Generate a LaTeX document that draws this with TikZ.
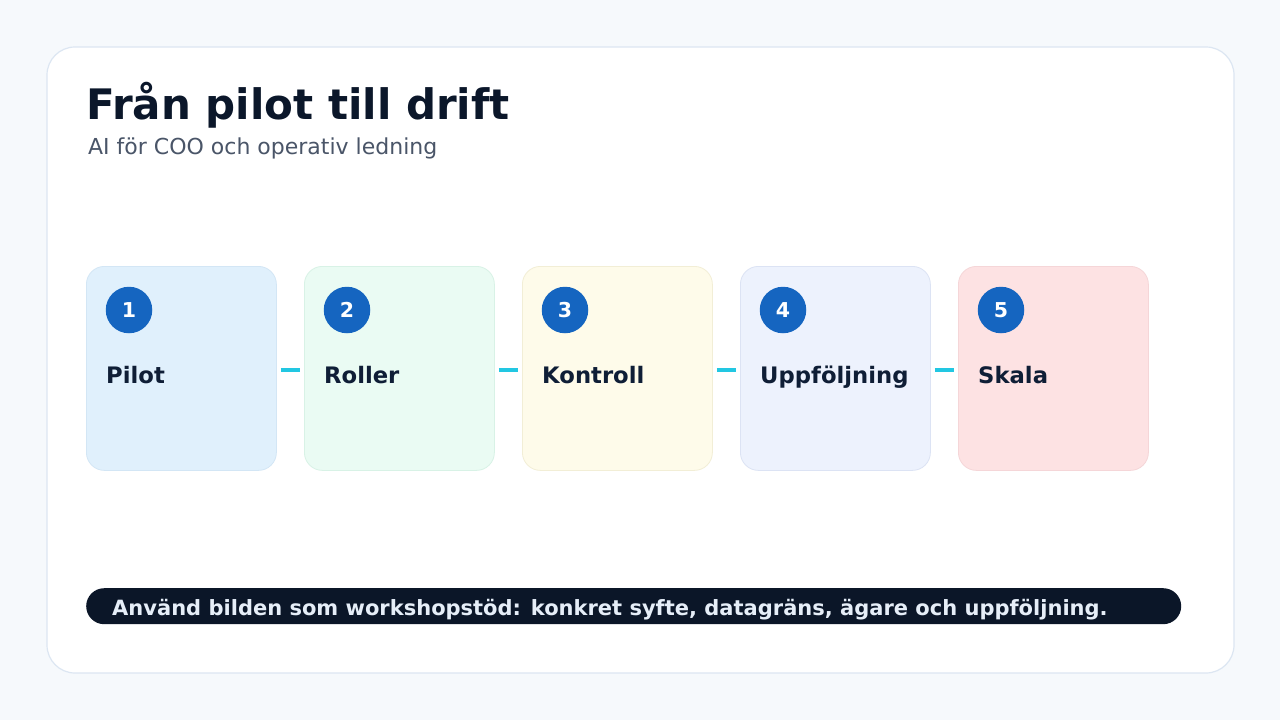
\documentclass[tikz,border=0pt]{standalone}
\usepackage{fontspec}
\setmainfont{DejaVu Sans}
\begin{document}
\begin{tikzpicture}[x=1pt,y=-1pt,
  numdot/.style={circle, fill=numblue, minimum size=46.5pt, inner sep=0pt, text=white, font=\fontsize{20.5}{24}\selectfont\bfseries},
  steplabel/.style={anchor=base west, inner sep=0pt, text=darktext, font=\fontsize{22.7}{26}\selectfont\bfseries},
  link/.style={draw=linkcyan, line width=4pt}]
\definecolor{bgpage}{HTML}{F6F9FC}
\definecolor{cardborder}{HTML}{DCE6F2}
\definecolor{titlecol}{HTML}{0B172A}
\definecolor{subcol}{HTML}{4A5568}
\definecolor{darktext}{HTML}{0F1E36}
\definecolor{numblue}{HTML}{1565C0}
\definecolor{linkcyan}{HTML}{22C7E2}
\definecolor{barcol}{HTML}{0B1628}
\definecolor{bartext}{HTML}{E6EEF8}
\definecolor{fillA}{HTML}{E0F0FC}
\definecolor{fillB}{HTML}{EAFBF3}
\definecolor{fillC}{HTML}{FEFBEA}
\definecolor{fillD}{HTML}{EDF2FD}
\definecolor{fillE}{HTML}{FDE2E3}
\definecolor{lineA}{HTML}{D3E6F5}
\definecolor{lineB}{HTML}{D8F2E6}
\definecolor{lineC}{HTML}{F2EED6}
\definecolor{lineD}{HTML}{DCE3F4}
\definecolor{lineE}{HTML}{F5D6D8}
\useasboundingbox (0,0) rectangle (1280,720);
\fill[bgpage] (0,0) rectangle (1280,720);
\draw[cardborder, fill=white, line width=1.2pt, rounded corners=28pt] (47,47) rectangle (1234,673);
\node[anchor=base west, inner sep=0pt, text=titlecol, font=\fontsize{42}{48}\selectfont\bfseries] (title) at (86,119) {Från pilot till drift};
\node[anchor=base west, inner sep=0pt, text=subcol, font=\fontsize{22}{26}\selectfont] (sub) at (88,154) {AI för COO och operativ ledning};
\foreach \i/\lab/\f/\l in {1/Pilot/fillA/lineA,2/Roller/fillB/lineB,3/Kontroll/fillC/lineC,4/Uppföljning/fillD/lineD,5/Skala/fillE/lineE}{
  \pgfmathsetmacro{\xl}{86+(\i-1)*218}
  \node[draw=\l, fill=\f, line width=0.8pt, rounded corners=18pt, minimum width=190pt, minimum height=204pt, inner sep=0pt, anchor=north west] (card\i) at (\xl,266) {};
  \node[numdot] (num\i) at (\xl+43,310) {\i};
  \node[steplabel] (lab\i) at (\xl+20,383.5) {\lab};
}
\foreach \a/\b in {1/2,2/3,3/4,4/5}{
  \draw[link] ([xshift=4pt]card\a.east |- 0,370) -- ([xshift=-4pt]card\b.west |- 0,370);
}
\node[fill=barcol, rounded corners=18pt, minimum width=1095pt, minimum height=36pt, inner sep=0pt, anchor=north west] (bar) at (86,588) {};
\node[anchor=base west, inner sep=0pt, text=bartext, font=\fontsize{21}{24}\selectfont\bfseries] (bartxt) at (112,615.5) {Använd bilden som workshopstöd: konkret syfte, datagräns, ägare och uppföljning.};
\end{tikzpicture}
\end{document}
